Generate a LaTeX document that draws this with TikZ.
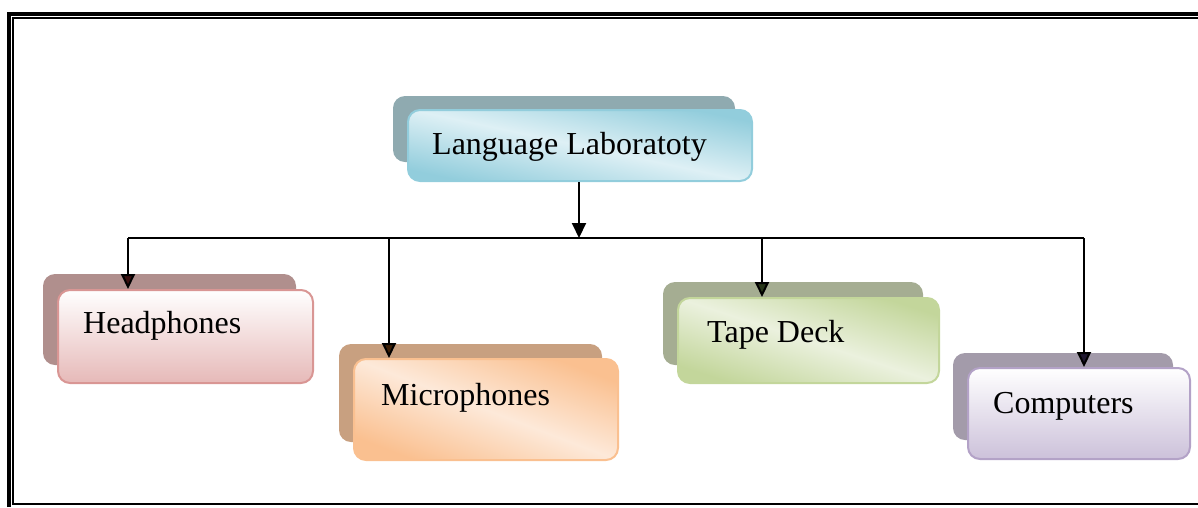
\documentclass[tikz,border=0pt]{standalone}
\usepackage{fontspec}
\setmainfont{Liberation Serif}
\usetikzlibrary{arrows.meta}
\definecolor{tDark}{RGB}{146,205,220}
\definecolor{tLight}{RGB}{222,240,245}
\definecolor{tShadow}{RGB}{143,170,176}
\definecolor{hBot}{RGB}{230,185,184}
\definecolor{hLine}{RGB}{217,150,148}
\definecolor{hShadow}{RGB}{176,143,141}
\definecolor{hTip}{RGB}{58,16,16}
\definecolor{mDark}{RGB}{250,192,144}
\definecolor{mLight}{RGB}{253,233,217}
\definecolor{mShadow}{RGB}{200,160,128}
\definecolor{mTip}{RGB}{60,30,5}
\definecolor{dDark}{RGB}{195,214,155}
\definecolor{dLight}{RGB}{235,241,222}
\definecolor{dShadow}{RGB}{165,173,146}
\definecolor{dTip}{RGB}{40,55,25}
\definecolor{cBot}{RGB}{204,193,218}
\definecolor{cLine}{RGB}{179,162,199}
\definecolor{cShadow}{RGB}{163,155,170}
\definecolor{cTip}{RGB}{32,24,48}
\begin{document}
\begin{tikzpicture}[x=1pt,y=-1pt,
  box/.style={rectangle,rounded corners=12pt,inner sep=0pt,line width=2pt},
  shadowbox/.style={box,draw=none},
  lbl/.style={anchor=base west,inner sep=0pt,font=\fontsize{32}{38}\selectfont},
  link/.style={line width=2pt,draw=black},
  arr/.style={link,-{Triangle[length=15pt,width=14pt,fill=#1]}},
  arr/.default=black,
  diag/.style 2 args={left color=#1Dark,right color=#1Dark,middle color=#1Light,shading angle=#2},
]
\useasboundingbox (0,0) rectangle (1198,507);
% frame
\draw[line width=4pt] (9,507) -- (9,14) -- (1198,14);
\draw[line width=2pt] (13,504) -- (13,18) -- (1198,18);
\draw[line width=2pt] (12,504) -- (1198,504);
% top box
\node[shadowbox,fill=tShadow,minimum width=342pt,minimum height=66pt] (tops) at (564,129) {};
\node[box,draw=tDark,diag={t}{-12},minimum width=344pt,minimum height=71pt] (top) at (580,145.5) {};
\node[lbl] (toptxt) at (432,154) {Language Laboratoty};
% headphones
\node[shadowbox,fill=hShadow,minimum width=253pt,minimum height=91pt] (heads) at (169.5,319.5) {};
\node[box,draw=hLine,top color=white,bottom color=hBot,minimum width=255pt,minimum height=93pt] (head) at (185.5,336.5) {};
\node[lbl] (headtxt) at (83,333) {Headphones};
% microphones
\node[shadowbox,fill=mShadow,minimum width=263pt,minimum height=98pt] (mics) at (470.5,393) {};
\node[box,draw=mDark,diag={m}{-21},minimum width=264pt,minimum height=101pt] (mic) at (486,409.5) {};
\node[lbl] (mictxt) at (381,405) {Microphones};
% tape deck
\node[shadowbox,fill=dShadow,minimum width=260pt,minimum height=83pt] (tapes) at (793,323.5) {};
\node[box,draw=dDark,diag={d}{-18},minimum width=261pt,minimum height=85pt] (tape) at (808.5,340.5) {};
\node[lbl] (tapetxt) at (707,342) {Tape Deck};
% computers
\node[shadowbox,fill=cShadow,minimum width=220pt,minimum height=87pt] (comps) at (1063,396.5) {};
\node[box,draw=cLine,top color=white,bottom color=cBot,minimum width=222pt,minimum height=91pt] (comp) at (1079,413.5) {};
\node[lbl] (comptxt) at (993,413) {Computers};
% connectors
\coordinate (j) at (579,238);
\coordinate (j1) at (128,238);
\coordinate (j2) at (389,238);
\coordinate (j3) at (762,238);
\coordinate (j4) at (1084,238);
\draw[arr] (j |- top.south) -- (j);
\draw[link] (j1) -- (j4);
\draw[arr=hTip] (j1) -- (j1 |- head.north);
\draw[arr=mTip] (j2) -- (j2 |- mic.north);
\draw[arr=dTip] (j3) -- (j3 |- tape.north);
\draw[arr=cTip] (j4) -- (j4 |- comp.north);
\end{tikzpicture}
\end{document}
